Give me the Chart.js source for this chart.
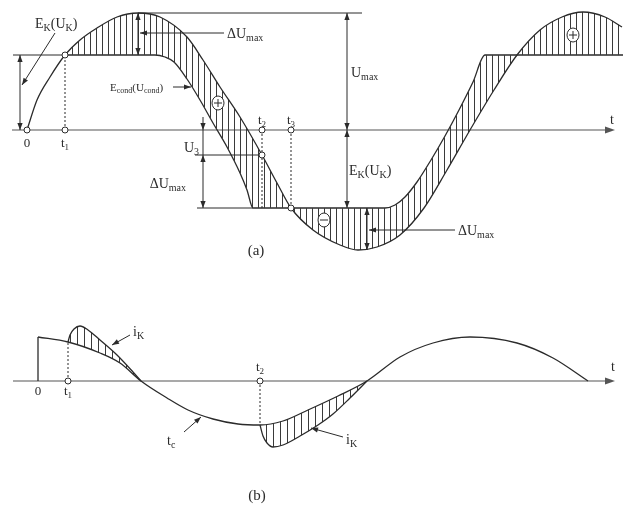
<!DOCTYPE html>
<html>
<head>
<meta charset="utf-8">
<script src="https://cdn.jsdelivr.net/npm/chart.js@4/dist/chart.umd.min.js"></script>
<style>
  html, body { margin: 0; padding: 0; background: #fff; }
  #wrap { position: relative; width: 623px; height: 508px; }
  canvas { position: absolute; left: 0; }
  #chartA { top: 0; }
  #chartB { top: 262px; }
</style>
</head>
<body>
<div id="wrap">
  <canvas id="chartA" width="623" height="262"></canvas>
  <canvas id="chartB" width="623" height="246"></canvas>
</div>
<script>
// (a) supply voltage E_K(U_K) and clamped converter voltage E_cond(U_cond)
const supplyT = [0, 10, 23, 38, 53, 70, 90, 111, 133, 160, 176, 193, 213, 235, 250, 264, 286, 313, 331, 350, 373, 397, 420, 443, 467, 490, 513, 535, 556, 578, 595];
const supplyU = [0, 30, 53, 75, 90, 102, 113, 117, 113, 93, 70, 43, 13, -25, -53, -78, -100, -115, -120, -117, -105, -78, -40, 0, 40, 75, 100, 113, 118, 113, 103];
const condT = [38, 128, 138, 147, 160, 173, 186, 200, 213, 220, 226, 358, 368, 378, 390, 404, 418, 432, 446, 458, 596];
const condU = [75, 75, 73, 68, 51, 30, 7, -17, -43, -60, -78, -78, -75, -67, -52, -30, -6, 20, 48, 75, 75];
const levelsA = [75, -78, 117];            // clamp levels and U_max
const marksA = [0, 38, 235, 264];
const markNamesA = ['0', 't1', 't2', 't3'];

// (b) capacitor current t_c and switch current i_K
const baseT = [0, 30, 62, 82, 103, 129, 150, 175, 200, 222, 245, 270, 300, 329, 362, 395, 432, 479, 515, 550];
const baseI = [44, 39, 28, 18, 0, -17, -29, -38, -43, -44, -40, -29, -15, 0, 24, 38, 44, 38, 23, 0];
const ik1T = [30, 32, 36, 42, 50, 62, 79, 95, 103];
const ik1I = [39, 46, 52, 55, 51, 41, 26, 9, 0];
const ik2T = [222, 225, 229, 235, 245, 262, 280, 295, 312, 329];
const ik2I = [-44, -55, -62, -66, -64, -55, -44, -33, -17, 0];
const marksB = [0, 30, 222];
const markNamesB = ['0', 't1', 't2'];

const ink = '#2b2b2b';
const axisInk = '#8c8c8c';
const serif = '"Liberation Serif", "Times New Roman", serif';

function pts(xs, ys) { return xs.map((x, i) => ({x, y: ys[i]})); }

function hatch(step) {
  const c = document.createElement('canvas');
  c.width = step; c.height = 4;
  const g = c.getContext('2d');
  g.fillStyle = '#3a3a3a';
  g.fillRect(0, 0, 1, 4);
  return g.createPattern(c, 'repeat');
}

function seg(ctx, x1, y1, x2, y2) {
  ctx.beginPath(); ctx.moveTo(x1, y1); ctx.lineTo(x2, y2); ctx.stroke();
}

// filled arrow head with its tip at (x, y), pointing along ang
function head(ctx, x, y, ang, len = 7, wid = 2.6) {
  const c = Math.cos(ang), s = Math.sin(ang);
  ctx.beginPath();
  ctx.moveTo(x, y);
  ctx.lineTo(x - len * c + wid * s, y - len * s - wid * c);
  ctx.lineTo(x - len * c - wid * s, y - len * s + wid * c);
  ctx.closePath();
  ctx.fill();
}

function pointer(ctx, x1, y1, x2, y2) {
  seg(ctx, x1, y1, x2, y2);
  head(ctx, x2, y2, Math.atan2(y2 - y1, x2 - x1));
}

function ring(ctx, x, y, r = 3) {
  ctx.beginPath(); ctx.arc(x, y, r, 0, Math.PI * 2);
  ctx.fillStyle = '#fff'; ctx.fill(); ctx.stroke();
  ctx.fillStyle = ink;
}

function sign(ctx, x, y, plus) {
  ctx.beginPath(); ctx.ellipse(x, y, 6, 7, 0, 0, Math.PI * 2);
  ctx.fillStyle = '#fff'; ctx.fill(); ctx.stroke();
  seg(ctx, x - 4, y, x + 4, y);
  if (plus) seg(ctx, x, y - 4, x, y + 4);
  ctx.fillStyle = ink;
}

// text with subscripts: parts = [[text, isSub], ...]
function rich(ctx, parts, x, y, size, align = 'left') {
  const sub = Math.round(size * 0.7);
  let w = 0;
  for (const [s, isSub] of parts) {
    ctx.font = `${isSub ? sub : size}px ${serif}`;
    w += ctx.measureText(s).width;
  }
  let cx = align === 'right' ? x - w : align === 'center' ? x - w / 2 : x;
  ctx.textAlign = 'left';
  ctx.textBaseline = 'alphabetic';
  for (const [s, isSub] of parts) {
    ctx.font = `${isSub ? sub : size}px ${serif}`;
    ctx.fillText(s, cx, isSub ? y + size * 0.2 : y);
    cx += ctx.measureText(s).width;
  }
}

function tName(name) {
  return name.length > 1 ? [[name[0], false], [name.slice(1), true]] : [[name, false]];
}

function timeAxis(chart, from, to) {
  const {ctx, scales: {x, y}} = chart;
  ctx.save();
  ctx.strokeStyle = axisInk; ctx.fillStyle = '#555';
  ctx.lineWidth = 1.6;
  seg(ctx, x.getPixelForValue(from), y.getPixelForValue(0), x.getPixelForValue(to) - 6, y.getPixelForValue(0));
  head(ctx, x.getPixelForValue(to), y.getPixelForValue(0), 0, 10, 3.5);
  ctx.restore();
}

const diagramA = {
  id: 'diagramA',
  beforeDatasetsDraw(chart) { timeAxis(chart, -15, 588); },
  afterDatasetsDraw(chart) {
    const {ctx, scales: {x, y}} = chart;
    const X = v => x.getPixelForValue(v), Y = v => y.getPixelForValue(v);
    const [top, bottom, peak] = levelsA;
    ctx.save();
    ctx.strokeStyle = ink; ctx.fillStyle = ink; ctx.lineWidth = 1;

    // extension lines
    seg(ctx, X(-14), Y(top), X(38), Y(top));
    seg(ctx, X(111), Y(peak), X(335), Y(peak));
    seg(ctx, X(170), Y(bottom), X(226), Y(bottom));
    const uAtT2 = supplyU[supplyT.indexOf(marksA[2])];
    seg(ctx, X(168), Y(uAtT2), X(marksA[2]), Y(uAtT2));

    // dotted drops from the marks
    ctx.setLineDash([2, 2]);
    seg(ctx, X(marksA[1]), Y(0), X(marksA[1]), Y(top));
    seg(ctx, X(marksA[2]), Y(0), X(marksA[2]), Y(bottom));
    seg(ctx, X(marksA[3]), Y(0), X(marksA[3]), Y(bottom));
    ctx.setLineDash([]);

    // dimension: clamp level on the left
    seg(ctx, X(-7), Y(0), X(-7), Y(top));
    head(ctx, X(-7), Y(top), -Math.PI / 2);
    head(ctx, X(-7), Y(0), Math.PI / 2);
    pointer(ctx, X(28), Y(97), X(-5), Y(45));

    // dimension: ΔU_max at the top
    seg(ctx, X(111), Y(peak), X(111), Y(top));
    head(ctx, X(111), Y(peak), -Math.PI / 2);
    head(ctx, X(111), Y(top), Math.PI / 2);
    pointer(ctx, X(197), Y(97), X(113), Y(97));

    // dimension: U_max and E_K(U_K)
    seg(ctx, X(320), Y(peak), X(320), Y(bottom));
    head(ctx, X(320), Y(peak), -Math.PI / 2);
    head(ctx, X(320), Y(0), Math.PI / 2);
    head(ctx, X(320), Y(0), -Math.PI / 2);
    head(ctx, X(320), Y(bottom), Math.PI / 2);

    // dimension: U_3 and ΔU_max on the falling edge
    seg(ctx, X(176), Y(13), X(176), Y(bottom));
    head(ctx, X(176), Y(0), Math.PI / 2);
    head(ctx, X(176), Y(uAtT2), -Math.PI / 2);
    head(ctx, X(176), Y(bottom), Math.PI / 2);

    // dimension: ΔU_max at the trough
    const trough = Math.min(...supplyU);
    seg(ctx, X(340), Y(bottom), X(340), Y(trough));
    head(ctx, X(340), Y(bottom), -Math.PI / 2);
    head(ctx, X(340), Y(trough), Math.PI / 2);
    pointer(ctx, X(428), Y(-100), X(342), Y(-100));

    // pointer to the clamped curve
    pointer(ctx, X(146), Y(43), X(164), Y(43));

    // sign marks
    sign(ctx, X(191), Y(27), true);
    sign(ctx, X(297), Y(-90), false);
    sign(ctx, X(546), Y(95), true);

    // marks on the axis and on the curves
    marksA.forEach(t => ring(ctx, X(t), Y(0)));
    ring(ctx, X(marksA[1]), Y(top));
    ring(ctx, X(marksA[2]), Y(uAtT2));
    ring(ctx, X(marksA[3]), Y(bottom));

    // labels
    marksA.forEach((t, i) => {
      const below = i < 2;
      rich(ctx, tName(markNamesA[i]), X(t), Y(below ? -17 : 6), 13, 'center');
    });
    rich(ctx, [['t', false]], X(585), Y(6), 14, 'center');
    rich(ctx, [['E', false], ['K', true], ['(U', false], ['K', true], [')', false]], X(8), Y(102), 14);
    rich(ctx, [['ΔU', false], ['max', true]], X(200), Y(92), 14);
    rich(ctx, [['E', false], ['cond', true], ['(U', false], ['cond', true], [')', false]], X(83), Y(39), 11);
    rich(ctx, [['U', false], ['max', true]], X(324), Y(53), 14);
    rich(ctx, [['E', false], ['K', true], ['(U', false], ['K', true], [')', false]], X(322), Y(-45), 14);
    rich(ctx, [['U', false], ['3', true]], X(172), Y(-22), 14, 'right');
    rich(ctx, [['ΔU', false], ['max', true]], X(159), Y(-58), 14, 'right');
    rich(ctx, [['ΔU', false], ['max', true]], X(431), Y(-105), 14);
    rich(ctx, [['(a)', false]], X(229), Y(-125), 15, 'center');
    ctx.restore();
  }
};

const diagramB = {
  id: 'diagramB',
  beforeDatasetsDraw(chart) { timeAxis(chart, -25, 577); },
  afterDatasetsDraw(chart) {
    const {ctx, scales: {x, y}} = chart;
    const X = v => x.getPixelForValue(v), Y = v => y.getPixelForValue(v);
    ctx.save();
    ctx.strokeStyle = ink; ctx.fillStyle = ink; ctx.lineWidth = 1;

    ctx.setLineDash([2, 2]);
    seg(ctx, X(marksB[1]), Y(0), X(marksB[1]), Y(baseI[baseT.indexOf(marksB[1])]));
    seg(ctx, X(marksB[2]), Y(0), X(marksB[2]), Y(baseI[baseT.indexOf(marksB[2])]));
    ctx.setLineDash([]);

    pointer(ctx, X(92), Y(46), X(74), Y(36));
    pointer(ctx, X(305), Y(-56), X(273), Y(-47));
    pointer(ctx, X(146), Y(-51), X(163), Y(-36));

    ring(ctx, X(marksB[1]), Y(0));
    ring(ctx, X(marksB[2]), Y(0));

    rich(ctx, tName(markNamesB[0]), X(marksB[0]), Y(-14), 13, 'center');
    rich(ctx, tName(markNamesB[1]), X(marksB[1]), Y(-14), 13, 'center');
    rich(ctx, tName(markNamesB[2]), X(marksB[2]), Y(10), 13, 'center');
    rich(ctx, [['t', false]], X(575), Y(10), 14, 'center');
    rich(ctx, [['i', false], ['K', true]], X(95), Y(45), 14);
    rich(ctx, [['i', false], ['K', true]], X(308), Y(-63), 14);
    rich(ctx, [['t', false], ['c', true]], X(129), Y(-64), 14);
    rich(ctx, [['(b)', false]], X(219), Y(-119), 15, 'center');
    ctx.restore();
  }
};

function opts(xMin, xMax, yMin, yMax) {
  return {
    responsive: false,
    animation: false,
    devicePixelRatio: 1,
    layout: { padding: 0 },
    elements: { point: { radius: 0 }, line: { borderWidth: 1.3, borderColor: ink } },
    plugins: { legend: { display: false }, tooltip: { enabled: false } },
    scales: {
      x: { type: 'linear', min: xMin, max: xMax, display: false },
      y: { type: 'linear', min: yMin, max: yMax, display: false }
    }
  };
}

new Chart(document.getElementById('chartA'), {
  type: 'line',
  data: {
    datasets: [
      { label: 'E_K(U_K)', data: pts(supplyT, supplyU), borderColor: ink,
        cubicInterpolationMode: 'monotone', fill: { target: 1 }, backgroundColor: hatch(6) },
      { label: 'E_cond(U_cond)', data: pts(condT, condU), borderColor: ink,
        cubicInterpolationMode: 'monotone', fill: false }
    ]
  },
  options: opts(-27, 596, -132, 130),
  plugins: [diagramA]
});

new Chart(document.getElementById('chartB'), {
  type: 'line',
  data: {
    datasets: [
      { label: 't_c', data: pts(baseT, baseI), borderColor: ink,
        cubicInterpolationMode: 'monotone', fill: false },
      { label: 'i_K', data: pts(ik1T, ik1I), borderColor: ink,
        cubicInterpolationMode: 'monotone', fill: { target: 0 }, backgroundColor: hatch(7) },
      { label: 'i_K', data: pts(ik2T, ik2I), borderColor: ink,
        cubicInterpolationMode: 'monotone', fill: { target: 0 }, backgroundColor: hatch(7) },
      { label: 'start', data: pts([0, 0], [0, baseI[0]]), borderColor: ink, tension: 0, fill: false }
    ]
  },
  options: opts(-38, 585, -127, 119),
  plugins: [diagramB]
});
</script>
</body>
</html>
